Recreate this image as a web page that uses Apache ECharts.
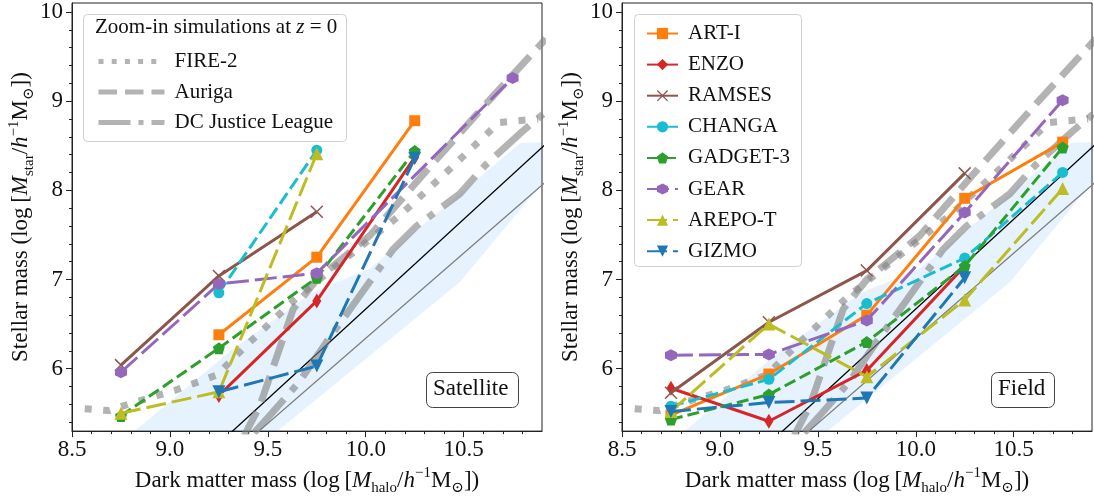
<!DOCTYPE html>
<html><head><meta charset="utf-8">
<script src="https://cdn.jsdelivr.net/npm/echarts@6/dist/echarts.min.js"></script>
<style>html,body{margin:0;padding:0;background:#fff}#c{width:1094px;height:501px}</style>
</head><body><div id="c"></div>
<script>
// ---------------- data ----------------
const haloMass = [8.75, 9.25, 9.75, 10.25, 10.75];
const codeNames = ['ART-I', 'ENZO', 'RAMSES', 'CHANGA', 'GADGET-3', 'GEAR', 'AREPO-T', 'GIZMO'];

// Satellite panel (log M_star), null = no halo
const satART    = [null, 6.38, 7.25, 8.78, null];
const satENZO   = [null, 5.70, 6.76, 8.37, null];
const satRAMSES = [6.04, 7.04, 7.76, null, null];
const satCHANGA = [null, 6.85, 8.45, null, null];
const satGADGET = [5.47, 6.23, 7.02, 8.44, null];
const satGEAR   = [5.96, 6.95, 7.07, null, 9.26];
const satAREPO  = [5.50, 5.74, 8.41, null, null];
const satGIZMO  = [null, 5.74, 6.03, 8.36, null];

// Field panel
const fieldART    = [5.48, 5.94, 6.60, 7.91, 8.54];
const fieldENZO   = [5.78, 5.41, 5.98, 7.15, null];
const fieldRAMSES = [5.73, 6.52, 7.10, 8.19, null];
const fieldCHANGA = [5.58, 5.88, 6.73, 7.24, 8.20];
const fieldGADGET = [5.43, 5.71, 6.30, 7.15, 8.48];
const fieldGEAR   = [6.15, 6.16, 6.54, 7.75, 9.01];
const fieldAREPO  = [5.52, 6.50, 5.91, 6.77, 8.02];
const fieldGIZMO  = [5.52, 5.62, 5.67, 7.02, null];

// Zoom-in simulation reference relations
const fire2X = [8.565, 8.69, 8.80, 9.03, 9.24, 9.40, 9.65, 9.78, 10.18, 10.43, 10.68, 10.88];
const fire2Y = [5.55, 5.53, 5.61, 5.76, 5.93, 6.28, 6.80, 7.03, 7.73, 8.24, 8.76, 8.80];
const aurigaX = [9.38, 9.46, 9.63, 9.75, 10.02, 10.31, 10.635, 10.92];
const aurigaY = [5.25, 5.59, 6.67, 7.00, 7.49, 8.22, 9.02, 9.70];
const dcjlX = [9.43, 9.52, 9.66, 9.80, 9.97, 10.14, 10.26, 10.48, 10.61, 10.80, 10.92];
const dcjlY = [5.28, 5.50, 5.85, 6.30, 6.82, 7.34, 7.60, 7.96, 8.28, 8.66, 8.88];

// abundance-matching band and relations
const bandX = [8.82, 9.31, 9.73, 10.02, 10.33, 10.79, 10.9, 10.9, 10.48, 9.55];
const bandY = [5.30, 6.20, 6.86, 7.12, 7.68, 8.53, 8.54, 8.08, 6.97, 5.30];
const blackLineX = [9.0, 11.0];
const blackLineY = [4.656, 8.682];
const grayLineX = [9.3, 11.0];
const grayLineY = [5.005, 8.25];

// ticks
const xTicks = [8.5, 9.0, 9.5, 10.0, 10.5];
const xMinor = [8.6, 8.7, 8.8, 8.9, 9.1, 9.2, 9.3, 9.4, 9.6, 9.7, 9.8, 9.9, 10.1, 10.2, 10.3, 10.4, 10.6, 10.7, 10.8];
const yTicks = [6, 7, 8, 9, 10];
const yMinor = [5.4, 5.6, 5.8, 6.2, 6.4, 6.6, 6.8, 7.2, 7.4, 7.6, 7.8, 8.2, 8.4, 8.6, 8.8, 9.2, 9.4, 9.6, 9.8];
const refNames = ['FIRE-2', 'Auriga', 'DC Justice League'];
const panelLabels = ['Satellite', 'Field'];

// ---------------- styles ----------------
const FONT = '"Liberation Serif", "DejaVu Serif", serif';
const X_SHAPE = 'path://M0,0.8L0.8,0L10,9.2L9.2,10Z M9.2,0L10,0.8L0.8,10L0,9.2Z';
const PENTA = 'path://M5,0L10,3.8L8.1,10L1.9,10L0,3.8Z';
const HEXA = 'path://M5,0L9.33,2.5L9.33,7.5L5,10L0.67,7.5L0.67,2.5Z';
const TRI_DOWN = 'path://M0,0L10,0L5,8.66Z';
const codeStyle = {
  'ART-I':    {color: '#ff7f0e', symbol: 'rect', size: 11, dash: 'solid'},
  'ENZO':     {color: '#d62728', symbol: 'diamond', size: [9, 15], dash: 'solid'},
  'RAMSES':   {color: '#8c564b', symbol: X_SHAPE, size: 13, dash: 'solid'},
  'CHANGA':   {color: '#17becf', symbol: 'circle', size: 11, dash: [13, 5]},
  'GADGET-3': {color: '#2ca02c', symbol: PENTA, size: 12, dash: [12, 5]},
  'GEAR':     {color: '#9467bd', symbol: HEXA, size: 12, dash: [22, 6]},
  'AREPO-T':  {color: '#bcbd22', symbol: 'triangle', size: 13, dash: [20, 6]},
  'GIZMO':    {color: '#1f77b4', symbol: TRI_DOWN, size: 13, dash: [20, 6]}
};
const GRAY = 'rgba(128,128,128,0.6)';
const refStyle = {
  'FIRE-2': [7, 11.5],
  'Auriga': [27, 11],
  'DC Justice League': [45, 11, 7, 11]
};
const refLegendDash = {
  'FIRE-2': [5, 8.2],
  'Auriga': [18.5, 8],
  'DC Justice League': [32, 8, 5, 8]
};
const refData = {
  'FIRE-2': [fire2X, fire2Y],
  'Auriga': [aurigaX, aurigaY],
  'DC Justice League': [dcjlX, dcjlY]
};
const satData = [satART, satENZO, satRAMSES, satCHANGA, satGADGET, satGEAR, satAREPO, satGIZMO];
const fieldData = [fieldART, fieldENZO, fieldRAMSES, fieldCHANGA, fieldGADGET, fieldGEAR, fieldAREPO, fieldGIZMO];

function pairs(xs, ys) { const out = []; xs.forEach((x, i) => { if (ys[i] != null) out.push([x, ys[i]]); }); return out; }

const GRIDS = [{left: 72, top: 3, width: 470, height: 430}, {left: 622, top: 3, width: 470, height: 430}];

const richAxis = {
  i: {fontFamily: FONT, fontSize: 23, fontStyle: 'italic', lineHeight: 30},
  sub: {fontFamily: FONT, fontSize: 15, verticalAlign: 'bottom', lineHeight: 15},
  sup: {fontFamily: FONT, fontSize: 15, verticalAlign: 'top', lineHeight: 15}
};
function xAxes(g) {
  return [{
    type: 'value', gridIndex: g, min: 8.5, max: 10.9, position: 'bottom',
    axisLine: {show: true, onZero: false, lineStyle: {color: '#222', width: 1}},
    axisTick: {show: true, customValues: xTicks, length: 6, lineStyle: {color: '#222', width: 1}},
    axisLabel: {customValues: xTicks, formatter: v => v.toFixed(1), fontFamily: FONT, fontSize: 23, color: '#111', margin: 7},
    splitLine: {show: false},
    name: 'Dark matter mass (log\u2009[{i|M}{sub|halo}/{i|h}{sup|\u22121}M{sub|\u2299}])',
    nameLocation: 'middle', nameGap: 33,
    nameTextStyle: {fontFamily: FONT, fontSize: 23, color: '#111', lineHeight: 30, rich: richAxis}
  }, {
    type: 'value', gridIndex: g, min: 8.5, max: 10.9, position: 'bottom',
    axisLine: {show: false},
    axisTick: {show: true, customValues: xMinor, length: 3, lineStyle: {color: '#222', width: 1}},
    axisLabel: {show: false}, splitLine: {show: false}
  }];
}
function yAxes(g) {
  return [{
    type: 'value', gridIndex: g, min: 5.3, max: 10.1, position: 'left',
    axisLine: {show: true, onZero: false, lineStyle: {color: '#222', width: 1}},
    axisTick: {show: true, customValues: yTicks, length: 6, lineStyle: {color: '#222', width: 1}},
    axisLabel: {customValues: yTicks, formatter: v => String(Math.round(v)), fontFamily: FONT, fontSize: 23, color: '#111', margin: 9},
    splitLine: {show: false},
    name: 'Stellar mass (log\u2009[{i|M}{sub|star}/{i|h}{sup|\u22121}M{sub|\u2299}])',
    nameLocation: 'middle', nameGap: 32,
    nameTextStyle: {fontFamily: FONT, fontSize: 23, color: '#111', lineHeight: 30, rich: richAxis}
  }, {
    type: 'value', gridIndex: g, min: 5.3, max: 10.1, position: 'left',
    axisLine: {show: false},
    axisTick: {show: true, customValues: yMinor, length: 3, lineStyle: {color: '#222', width: 1}},
    axisLabel: {show: false}, splitLine: {show: false}
  }];
}

const series = [];
[0, 1].forEach(p => {
  const xi = p * 2, yi = p * 2;
  series.push({
    type: 'custom', name: 'band' + p, xAxisIndex: xi, yAxisIndex: yi, z: 1, silent: true,
    data: [[9.5, 6.5]],
    renderItem: (params, api) => ({
      type: 'polygon',
      shape: {points: bandX.map((x, i) => api.coord([x, bandY[i]]))},
      style: {fill: 'rgba(30,144,255,0.11)'}
    })
  });
  series.push({type: 'line', name: 'blackrel' + p, xAxisIndex: xi, yAxisIndex: yi, z: 2, silent: true,
    data: pairs(blackLineX, blackLineY), symbol: 'none', lineStyle: {color: '#000', width: 1.3}});
  series.push({type: 'line', name: 'grayrel' + p, xAxisIndex: xi, yAxisIndex: yi, z: 2, silent: true,
    data: pairs(grayLineX, grayLineY), symbol: 'none', lineStyle: {color: '#7f7f7f', width: 1.3}});
  refNames.forEach(n => {
    series.push({type: 'line', name: n, xAxisIndex: xi, yAxisIndex: yi, z: 3, silent: true,
      data: pairs(refData[n][0], refData[n][1]), symbol: 'none',
      itemStyle: {color: GRAY},
      lineStyle: {color: GRAY, width: 7, type: refStyle[n], cap: 'butt'}});
  });
  const dataSet = p === 0 ? satData : fieldData;
  codeNames.forEach((n, k) => {
    const s = codeStyle[n];
    series.push({type: 'line', name: n, xAxisIndex: xi, yAxisIndex: yi, z: 5 + k, silent: true,
      data: pairs(haloMass, dataSet[k]), symbol: s.symbol, symbolSize: s.size, showSymbol: true,
      symbolKeepAspect: false,
      itemStyle: {color: s.color, borderWidth: 0},
      lineStyle: {color: s.color, width: 3, type: s.dash, cap: 'butt'}});
  });
});

const option = {
  animation: false,
  backgroundColor: '#fff',
  grid: GRIDS.map(g => Object.assign({show: true, borderColor: '#222', borderWidth: 1, backgroundColor: 'transparent'}, g)),
  xAxis: xAxes(0).concat(xAxes(1)),
  yAxis: yAxes(0).concat(yAxes(1)),
  legend: [{
    data: refNames.map(n => ({name: n, itemStyle: {opacity: 0, color: 'rgba(0,0,0,0)'},
      lineStyle: {color: 'rgba(128,128,128,0.6)', width: 5, type: refLegendDash[n], cap: 'butt'}})),
    orient: 'vertical', left: 91, top: 46, itemWidth: 66, itemHeight: 14, itemGap: 9.5,
    selectedMode: false, z: 20,
    textStyle: {fontFamily: FONT, fontSize: 21, color: '#111', padding: [0, 0, 0, 5]}
  }, {
    data: codeNames,
    orient: 'vertical', left: 641, top: 18, itemWidth: 31, itemHeight: 14, itemGap: 10.1,
    selectedMode: false, z: 20,
    textStyle: {fontFamily: FONT, fontSize: 21, color: '#111', padding: [0, 0, 0, 5]}
  }],
  graphic: [
    {type: 'rect', left: 83, top: 14, z: 15, shape: {width: 263, height: 127, r: 4}, style: {fill: 'rgba(255,255,255,0.85)', stroke: '#d0d0d0', lineWidth: 1}},
    {type: 'rect', left: 634, top: 14, z: 15, shape: {width: 167, height: 252, r: 4}, style: {fill: 'rgba(255,255,255,0.85)', stroke: '#d0d0d0', lineWidth: 1}},
    {type: 'text', left: 95, top: 17, z: 21, style: {text: 'Zoom-in simulations at {i|z} = 0', fontFamily: FONT, fontSize: 21, fill: '#111',
      rich: {i: {fontFamily: FONT, fontSize: 21, fontStyle: 'italic'}}}},
    {type: 'rect', left: 426, top: 372, z: 15, shape: {width: 92, height: 35, r: 6}, style: {fill: '#fff', stroke: '#444', lineWidth: 1}},
    {type: 'text', left: 433, top: 377, z: 21, style: {text: panelLabels[0], fontFamily: FONT, fontSize: 23, fill: '#111'}},
    {type: 'rect', left: 991, top: 372, z: 15, shape: {width: 63, height: 35, r: 6}, style: {fill: '#fff', stroke: '#444', lineWidth: 1}},
    {type: 'text', left: 998, top: 377, z: 21, style: {text: panelLabels[1], fontFamily: FONT, fontSize: 23, fill: '#111'}}
  ],
  series: series
};
const chart = echarts.init(document.getElementById('c'), null, {renderer: 'canvas'});
chart.setOption(option);
</script></body></html>
